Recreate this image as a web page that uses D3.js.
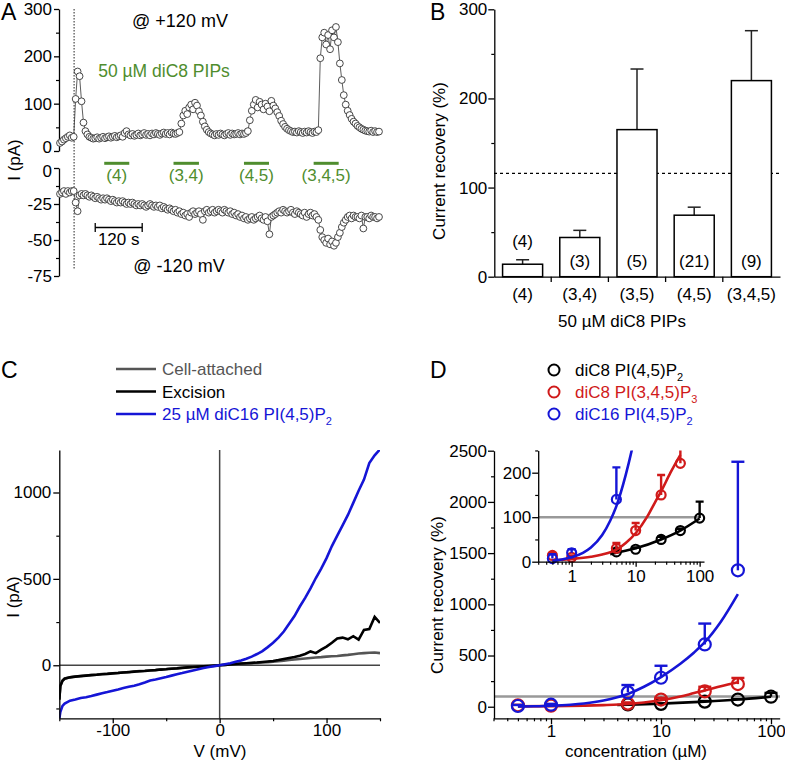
<!DOCTYPE html>
<html><head><meta charset="utf-8">
<script src="https://cdn.jsdelivr.net/npm/d3@7"></script>
<style>
body{margin:0;background:#fff}
</style></head><body>
<svg id="c" width="785" height="760" xmlns="http://www.w3.org/2000/svg"></svg>
<script>
// ---------------- DATA ----------------
// Panel A: current time courses, one sample every A_DT seconds
const A_DT = 5;
const A_TOP = [17,20,24,27,30,33,28,30,110,168,158,105,60,42,35,30,
 28,26,27,29,26,28,30,27,29,31,28,30,32,29,31,33,30,38,42,35,33,36,32,34,37,33,35,38,34,36,33,37,35,38,36,34,37,39,36,38,35,39,37,36,38,
 40,58,75,85,78,92,98,88,102,96,84,75,62,52,45,40,37,35,
 33,36,34,37,35,33,36,38,34,37,35,36,38,35,37,36,38,
 42,65,85,98,108,92,104,98,88,100,94,84,106,96,90,82,74,64,57,51,47,44,42,40,41,
 39,42,40,38,41,39,42,40,38,41,40,
 44,196,240,250,225,245,215,255,240,262,230,185,150,118,98,85,76,68,62,58,53,50,47,45,43,42,41,43,40,42,40,41];
const A_BOT = [-18,-17,-16,-18,-16,-17,-16,-16,-24,-30,-19,
 -18,-19,-18,-19,-20,-19,-20,-21,-20,-21,-22,-21,-22,-21,-22,-23,-22,-23,-24,-23,-24,-23,-24,-25,-24,-25,-24,-25,-26,-25,-26,-25,-26,-27,-26,-25,-26,-27,
 -26,-27,-26,-28,-27,-28,-29,-28,-29,-30,-29,-31,-30,-32,-31,-33,-32,-34,-31,-30,-32,
 -31,-30,-32,-36,-30,-29,-31,-30,-29,-31,-30,-29,-30,-31,-29,-30,-31,-30,-32,-31,-33,-32,-34,-33,-35,-34,-36,-35,-34,-36,-35,
 -34,-33,-35,-36,-34,-37,
 -46,-34,-33,-32,-31,-30,-31,-29,-30,-31,-30,-29,-31,-32,-30,-31,-32,-33,-31,-34,-32,-31,-33,-32,-34,
 -36,-43,-48,-50,-52,-49,-53,-51,-54,-52,-48,-45,-41,-38,-36,-34,-33,-35,-33,-34,-34,-35,-33,-42,-34,-34,-35,-33,-34,-34,-35,-34];
const A_EXCISION_T = 36;                       // s
const A_BAR_START = [113, 290, 470, 648];      // s
const A_BAR_END = [177, 355, 534, 712];        // s
const A_BAR_LABELS = ["(4)", "(3,4)", "(4,5)", "(3,4,5)"];
const A_SCALEBAR = [90, 210];                  // 120 s
const A_TOP_TICKS = [0, 100, 200, 300];
const A_BOT_TICKS = [0, -25, -50, -75];

// Panel B: current recovery, mean + SEM
const B_CATS = ["(4)", "(3,4)", "(3,5)", "(4,5)", "(3,4,5)"];
const B_MEAN = [14, 44, 165, 69, 220];
const B_ERR = [5, 8, 68, 9, 56];
const B_N = ["(4)", "(3)", "(5)", "(21)", "(9)"];
const B_REF = 116;
const B_TICKS = [0, 100, 200, 300];

// Panel C: I-V curves
const C_V = [-150,-149,-147,-145,-140,-135,-130,-125,-120,-115,-110,-105,-100,-95,-90,-85,-80,-75,-70,-65,-60,-55,-50,-45,-40,-35,-30,-25,-20,-15,-10,-5,0,5,10,15,20,25,30,35,40,45,50,55,60,65,70,75,80,85,90,95,100,105,110,115,120,125,130,135,140,145,150];
const C_CELL = [-195,-118,-88,-76,-69,-65,-62,-59,-56,-54,-51,-49,-46,-44,-41,-39,-36,-34,-32,-29,-27,-24,-22,-19,-17,-14,-12,-10,-8,-6,-4,-2,0,2,4,6,8,10,12,14,16,18,21,24,27,30,33,36,39,42,45,47,50,52,54,57,60,64,68,70,72,74,70];
const C_EXC = [-200,-120,-90,-78,-70,-66,-63,-60,-57,-55,-52,-50,-47,-45,-42,-40,-37,-35,-33,-30,-28,-25,-23,-20,-18,-15,-12,-10,-8,-6,-4,-2,0,2,5,8,10,12,14,16,19,22,25,30,36,42,48,55,65,80,70,90,108,130,155,160,150,168,148,205,210,280,245];
const C_PIP = [-310,-270,-235,-222,-205,-198,-190,-185,-178,-170,-162,-155,-147,-140,-132,-125,-118,-110,-100,-88,-82,-75,-68,-60,-52,-45,-37,-30,-23,-16,-10,-5,0,6,12,20,28,38,50,65,82,105,130,160,195,240,285,340,390,445,505,560,620,690,750,810,870,940,1010,1075,1170,1215,1250];
const C_LEGEND = ["Cell-attached", "Excision", "25 \u00b5M diC16 PI(4,5)P"];

// Panel D: dose-response
const D_K_CONC = [5, 10, 25, 50, 100];
const D_K_VAL = [22, 28, 50, 70, 98];
const D_K_ERR = [5, 4, 6, 4, 37];
const D_R_CONC = [0.5, 1, 5, 10, 25, 50];
const D_R_VAL = [14, 10, 30, 70, 150, 221];
const D_R_ERR = [5, 4, 12, 17, 45, 60];
const D_U_CONC = [0.5, 1, 5, 10, 25, 50];
const D_U_VAL = [7, 20, 140, 283, 608, 1332];
const D_U_ERR = [10, 8, 72, 117, 204, 1060];
const D_FIT_K_X = [4, 5, 10, 25, 50, 100];
const D_FIT_K = [17, 20, 30, 50, 70, 97];
const D_FIT_R_X = [0.5, 1, 2, 3, 5, 7, 10, 15, 20, 25, 35, 50];
const D_FIT_R = [3, 6, 11, 16, 27, 42, 64, 100, 133, 158, 200, 240];
const D_FIT_U_X = [0.5, 0.7, 1, 1.5, 2, 3, 4, 5, 7, 10, 15, 20, 25, 35, 50];
const D_FIT_U = [2, 5, 10, 20, 32, 60, 92, 125, 195, 290, 420, 530, 630, 830, 1100];
const D_MAIN_YTICKS = [0, 500, 1000, 1500, 2000, 2500];
const D_MAIN_YMINOR = [250, 750, 1250, 1750, 2250];
const D_XTICKS = [1, 10, 100];
const D_XMINOR = [0.3,0.4,0.5,0.6,0.7,0.8,0.9,2,3,4,5,6,7,8,9,20,30,40,50,60,70,80,90];
const D_IN_YTICKS = [0, 100, 200];
const D_IN_YMINOR = [50, 150, 250];
const D_LEGEND = ["diC8 PI(4,5)P", "diC8 PI(3,4,5)P", "diC16 PI(4,5)P"];
const D_LEGEND_SUB = ["2", "3", "2"];

// ---------------- DRAWING ----------------
const FONT = '"Liberation Sans", Arial, Helvetica, sans-serif';
const FS = 17;
const GREEN = "#4f8d2e", RED = "#d01a1a", BLUE = "#1515d6";
const svg = d3.select("#c");
svg.append("rect").attr("width",785).attr("height",760).attr("fill","#fff");
const defs = svg.append("defs");

function makeAxis(orient, scale, tx, ty, major, minor, o = {}) {
  const maj = o.maj ?? 6, mn = o.mn ?? 3, pad = o.pad ?? 2;
  const A = orient === "left" ? d3.axisLeft : d3.axisBottom;
  if (minor && minor.length) {
    const m = svg.append("g").attr("transform", `translate(${tx},${ty})`)
      .call(A(scale).tickValues(minor).tickSize(mn).tickFormat(""));
    m.select(".domain").remove();
    m.selectAll("line").attr("stroke", "#000").attr("stroke-width", 1.2);
  }
  const g = svg.append("g").attr("transform", `translate(${tx},${ty})`);
  const ax = A(scale).tickSize(maj).tickSizeOuter(0).tickPadding(pad)
    .tickFormat(o.fmt || (d => String(d)));
  if (major) ax.tickValues(major);
  g.call(ax);
  g.attr("font-size", FS).attr("font-family", FONT);
  g.selectAll("text").attr("fill", "#000");
  g.selectAll("line,path").attr("stroke", "#000").attr("stroke-width", 1.3);
  return g;
}
function label(x, y, txt, o = {}) {
  const t = svg.append("text").attr("x", x).attr("y", y).text(txt)
    .attr("font-family", FONT).attr("font-size", o.fs || FS)
    .attr("fill", o.fill || "#000").attr("text-anchor", o.anchor || "start");
  if (o.rotate) t.attr("transform", `rotate(-90,${x},${y})`);
  return t;
}

// ===== Panel A =====
const ax = d3.scaleLinear().domain([0, 815]).range([60, 379]);
const ayT = d3.scaleLinear().domain([0, 300]).range([151, 9]);
const ayB = d3.scaleLinear().domain([-75, 0]).range([276, 168]);
const gAT = makeAxis("left", ayT, 59, 0, A_TOP_TICKS, [50, 150, 250], {maj: 5, mn: 3, pad: 2});
const gAB = makeAxis("left", ayB, 59, 0, A_BOT_TICKS, [-12.5, -37.5, -62.5], {maj: 5, mn: 3, pad: 2});
// keep the two adjacent "0" labels from colliding
gAT.selectAll(".tick").filter(d => d === 0).select("text").attr("dy", "0.1em");
gAB.selectAll(".tick").filter(d => d === 0).select("text").attr("dy", "0.5em");
svg.append("line").attr("x1", ax(A_EXCISION_T)).attr("x2", ax(A_EXCISION_T))
  .attr("y1", 9).attr("y2", 270).attr("stroke", "#222").attr("stroke-width", 1)
  .attr("stroke-dasharray", "1.5,1.5");
function trace(vals, ys) {
  const pts = vals.map((v, i) => [ax(i * A_DT), ys(v)]);
  svg.append("path").attr("d", d3.line()(pts)).attr("fill", "none")
    .attr("stroke", "#333").attr("stroke-width", 0.8);
  svg.append("g").selectAll("circle").data(pts).join("circle")
    .attr("cx", d => d[0]).attr("cy", d => d[1]).attr("r", 3.4)
    .attr("fill", "#fff").attr("stroke", "#333").attr("stroke-width", 0.9);
}
trace(A_TOP, ayT);
trace(A_BOT, ayB);
A_BAR_START.forEach((s, i) => {
  svg.append("line").attr("x1", ax(s)).attr("x2", ax(A_BAR_END[i])).attr("y1", 163.3).attr("y2", 163.3)
    .attr("stroke", GREEN).attr("stroke-width", 3);
  label((ax(s) + ax(A_BAR_END[i])) / 2, 181, A_BAR_LABELS[i], {anchor: "middle", fill: GREEN});
});
// scale bar
const sb = svg.append("g").attr("stroke", "#000").attr("stroke-width", 1.3);
sb.append("line").attr("x1", ax(A_SCALEBAR[0])).attr("x2", ax(A_SCALEBAR[1])).attr("y1", 227.5).attr("y2", 227.5);
sb.append("line").attr("x1", ax(A_SCALEBAR[0])).attr("x2", ax(A_SCALEBAR[0])).attr("y1", 223).attr("y2", 232);
sb.append("line").attr("x1", ax(A_SCALEBAR[1])).attr("x2", ax(A_SCALEBAR[1])).attr("y1", 223).attr("y2", 232);
label((ax(A_SCALEBAR[0]) + ax(A_SCALEBAR[1])) / 2, 245, "120 s", {anchor: "middle"});
label(180, 27, "@ +120 mV", {anchor: "middle", fs: 18});
label(164, 77, "50 \u00b5M diC8 PIPs", {anchor: "middle", fill: GREEN, fs: 17.5});
label(179, 272, "@ -120 mV", {anchor: "middle", fs: 18});
label(20, 160, "I (pA)", {anchor: "middle", rotate: true});
label(1, 20, "A", {fs: 23});

// ===== Panel B =====
const bx = d3.scaleBand().domain(B_CATS).range([494, 780]).paddingInner(0.3).paddingOuter(0.15);
const by = d3.scaleLinear().domain([0, 300]).range([276.7, 9.3]);
makeAxis("left", by, 494.3, 0, B_TICKS, [50, 150, 250], {maj: 6, mn: 3, pad: 1});
makeAxis("bottom", bx, 0, 276.7, null, null, {maj: 0, pad: 11, fmt: d => d});
// category boundary ticks
B_CATS.slice(0, -1).forEach(c => {
  const xx = bx(c) + bx.bandwidth() / 2 + bx.step() / 2;
  svg.append("line").attr("x1", xx).attr("x2", xx).attr("y1", 276.7).attr("y2", 282)
    .attr("stroke", "#000").attr("stroke-width", 1.3);
});
svg.append("line").attr("x1", 494).attr("x2", 780).attr("y1", by(B_REF)).attr("y2", by(B_REF))
  .attr("stroke", "#000").attr("stroke-width", 1.3).attr("stroke-dasharray", "3,3");
B_CATS.forEach((c, i) => {
  const x0 = bx(c), w = bx.bandwidth(), cx = x0 + w / 2;
  const yt = by(B_MEAN[i] + B_ERR[i]);
  svg.append("line").attr("x1", cx).attr("x2", cx).attr("y1", by(B_MEAN[i])).attr("y2", yt)
    .attr("stroke", "#222").attr("stroke-width", 1.5);
  svg.append("line").attr("x1", cx - 6.5).attr("x2", cx + 6.5).attr("y1", yt).attr("y2", yt)
    .attr("stroke", "#222").attr("stroke-width", 1.5);
  svg.append("rect").attr("x", x0).attr("width", w).attr("y", by(B_MEAN[i]))
    .attr("height", by(0) - by(B_MEAN[i])).attr("fill", "#fff").attr("stroke", "#000").attr("stroke-width", 1.5);
  const inside = by(B_MEAN[i]) < 250;
  label(cx, inside ? 267 : 247, B_N[i], {anchor: "middle"});
});
label(622, 327, "50 \u00b5M diC8 PIPs", {anchor: "middle"});
label(445, 161, "Current recovery (%)", {anchor: "middle", rotate: true});
label(430, 20, "B", {fs: 23});

// ===== Panel C =====
const cx = d3.scaleLinear().domain([-150, 150]).range([59.3, 380]);
const cy = d3.scaleLinear().domain([-307, 1246]).range([718.3, 450]);
defs.append("clipPath").attr("id", "clipC").append("rect")
  .attr("x", 59.3).attr("y", 450).attr("width", 380 - 59.3).attr("height", 718.3 - 450);
const cg = svg.append("g").attr("clip-path", "url(#clipC)");
cg.append("line").attr("x1", cx(-150)).attr("x2", cx(150)).attr("y1", cy(0)).attr("y2", cy(0))
  .attr("stroke", "#444").attr("stroke-width", 1.5);
cg.append("line").attr("x1", cx(0)).attr("x2", cx(0)).attr("y1", 450).attr("y2", 718.3)
  .attr("stroke", "#444").attr("stroke-width", 1.5);
const cline = d3.line().x((d, i) => cx(C_V[i])).y(d => cy(d));
cg.append("path").attr("d", cline(C_CELL)).attr("fill", "none").attr("stroke", "#555").attr("stroke-width", 2.6);
cg.append("path").attr("d", cline(C_EXC)).attr("fill", "none").attr("stroke", "#000").attr("stroke-width", 2.6);
cg.append("path").attr("d", cline(C_PIP)).attr("fill", "none").attr("stroke", BLUE).attr("stroke-width", 2.6);
makeAxis("left", cy, 59.3, 0, [0, 500, 1000], [-250, 250, 750], {maj: 6, mn: 3, pad: 2});
makeAxis("bottom", cx, 0, 718.3, [-100, 0, 100], [-150, -50, 50, 150], {maj: 5, mn: 3, pad: 1});
label(220, 757, "V (mV)", {anchor: "middle"});
label(19, 597, "I (pA)", {anchor: "middle", rotate: true});
label(1, 378, "C", {fs: 23});
const cLegCol = ["#555", "#000", BLUE];
const cLegY = [369, 391.5, 414];
C_LEGEND.forEach((t, i) => {
  svg.append("line").attr("x1", 116).attr("x2", 156).attr("y1", cLegY[i]).attr("y2", cLegY[i])
    .attr("stroke", cLegCol[i]).attr("stroke-width", 2.6);
  const tx = label(162, cLegY[i] + 6, t, {fill: cLegCol[i]});
  if (i === 2) tx.append("tspan").attr("font-size", 11).attr("dy", 5).text("2");
});

// ===== Panel D =====
const dx = d3.scaleLog().domain([0.3, 120]).range([493.5, 779.7]);
const dy = d3.scaleLinear().domain([-113, 2500]).range([718.3, 450.7]);
const ix = d3.scaleLog().domain([0.3, 117]).range([538.2, 704]);
const iy = d3.scaleLinear().domain([0, 250]).range([561.7, 450.45]);
defs.append("clipPath").attr("id", "clipD").append("rect")
  .attr("x", 494).attr("y", 440).attr("width", 291).attr("height", 285);
defs.append("clipPath").attr("id", "clipI").append("rect")
  .attr("x", 538.2).attr("y", 450.45).attr("width", 170).attr("height", 118);

function series(g, xs, ys, conc, vals, errs, col, r, cap, fitX, fitY) {
  if (fitX) {
    g.append("path").attr("d", d3.line().curve(d3.curveMonotoneX).x((d, i) => xs(fitX[i])).y(d => ys(d))(fitY))
      .attr("fill", "none").attr("stroke", col).attr("stroke-width", 2.6);
  }
  conc.forEach((c, i) => {
    const x = xs(c), y0 = ys(vals[i]), y1 = ys(vals[i] + errs[i]);
    g.append("line").attr("x1", x).attr("x2", x).attr("y1", y0).attr("y2", y1).attr("stroke", col).attr("stroke-width", 2.4);
    g.append("line").attr("x1", x - cap).attr("x2", x + cap).attr("y1", y1).attr("y2", y1).attr("stroke", col).attr("stroke-width", 2.4);
    g.append("circle").attr("cx", x).attr("cy", y0).attr("r", r).attr("fill", "none").attr("stroke", col).attr("stroke-width", 2.2);
  });
}
// main
const dg = svg.append("g").attr("clip-path", "url(#clipD)");
dg.append("line").attr("x1", 494).attr("x2", 780).attr("y1", dy(100)).attr("y2", dy(100))
  .attr("stroke", "#999").attr("stroke-width", 2.6);
series(dg, dx, dy, D_K_CONC, D_K_VAL, D_K_ERR, "#000", 6, 6.5, D_FIT_K_X, D_FIT_K);
series(dg, dx, dy, D_R_CONC, D_R_VAL, D_R_ERR, RED, 6, 6.5, D_FIT_R_X, D_FIT_R);
series(dg, dx, dy, D_U_CONC, D_U_VAL, D_U_ERR, BLUE, 6, 6.5, D_FIT_U_X, D_FIT_U);
makeAxis("left", dy, 494, 0, D_MAIN_YTICKS, D_MAIN_YMINOR, {maj: 6, mn: 3, pad: 1});
makeAxis("bottom", dx, 0, 718.3, D_XTICKS, D_XMINOR, {maj: 6, mn: 3, pad: 1});
// inset
const ig = svg.append("g").attr("clip-path", "url(#clipI)");
ig.append("line").attr("x1", 538).attr("x2", 700).attr("y1", iy(100)).attr("y2", iy(100))
  .attr("stroke", "#999").attr("stroke-width", 2.6);
series(ig, ix, iy, D_K_CONC, D_K_VAL, D_K_ERR, "#000", 4.5, 4, D_FIT_K_X, D_FIT_K);
series(ig, ix, iy, D_R_CONC, D_R_VAL, D_R_ERR, RED, 4.5, 4, D_FIT_R_X, D_FIT_R);
series(ig, ix, iy, D_U_CONC, D_U_VAL, D_U_ERR, BLUE, 4.5, 4, D_FIT_U_X, D_FIT_U);
makeAxis("left", iy, 538.2, 0, D_IN_YTICKS, D_IN_YMINOR, {maj: 6, mn: 3, pad: 1});
makeAxis("bottom", ix, 0, 561.7, D_XTICKS, D_XMINOR, {maj: 5, mn: 3, pad: 3});
label(636, 757, "concentration (\u00b5M)", {anchor: "middle"});
label(443, 595, "Current recovery (%)", {anchor: "middle", rotate: true});
label(430, 378, "D", {fs: 23});
const dLegCol = ["#000", RED, BLUE];
const dLegY = [370, 392, 414];
D_LEGEND.forEach((t, i) => {
  svg.append("circle").attr("cx", 554).attr("cy", dLegY[i]).attr("r", 5.5)
    .attr("fill", "none").attr("stroke", dLegCol[i]).attr("stroke-width", 2);
  const tx = label(575, dLegY[i] + 6, t, {fill: dLegCol[i]});
  tx.append("tspan").attr("font-size", 11).attr("dy", 5).text(D_LEGEND_SUB[i]);
});
</script></body></html>
